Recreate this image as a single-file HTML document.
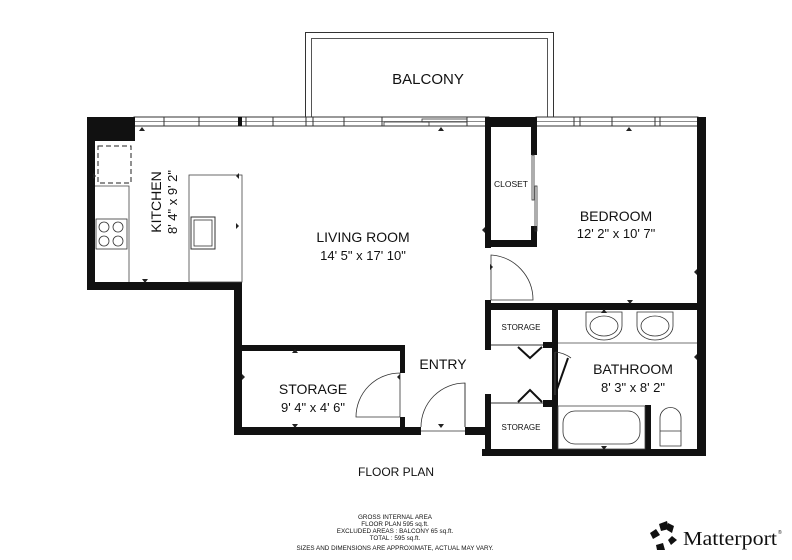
<!DOCTYPE html>
<html><head><meta charset="utf-8"><style>
html,body{margin:0;padding:0;background:#fff;}
svg{display:block;}
text{font-family:"Liberation Sans",sans-serif;fill:#111;}
</style></head><body>
<svg width="792" height="560" viewBox="0 0 792 560" xmlns="http://www.w3.org/2000/svg">
<rect width="792" height="560" fill="#fff"/>
<!-- Balcony -->
<rect x="305.5" y="32.5" width="248" height="92" fill="none" stroke="#333" stroke-width="1"/>
<rect x="311.5" y="38.5" width="236" height="86" fill="none" stroke="#555" stroke-width="1"/>
<text x="428" y="84" font-size="15" text-anchor="middle">BALCONY</text>
<!-- window band -->
<rect x="134" y="117" width="355" height="9" fill="#fff" stroke="#333" stroke-width="1"/>
<line x1="134" y1="121.5" x2="489" y2="121.5" stroke="#666" stroke-width="0.8"/>
<rect x="536" y="117" width="162" height="9" fill="#fff" stroke="#333" stroke-width="1"/>
<line x1="536" y1="121.5" x2="698" y2="121.5" stroke="#666" stroke-width="0.8"/>
<g stroke="#333" stroke-width="1">
<line x1="164" y1="117" x2="164" y2="126"/><line x1="199" y1="117" x2="199" y2="126"/>
<line x1="239" y1="117" x2="239" y2="126"/><line x1="246" y1="117" x2="246" y2="126"/>
<line x1="273" y1="117" x2="273" y2="126"/><line x1="306" y1="117" x2="306" y2="126"/>
<line x1="313" y1="117" x2="313" y2="126"/><line x1="344" y1="117" x2="344" y2="126"/>
<line x1="382" y1="117" x2="382" y2="126"/><line x1="467" y1="117" x2="467" y2="126"/>
<line x1="574" y1="117" x2="574" y2="126"/><line x1="580" y1="117" x2="580" y2="126"/>
<line x1="612" y1="117" x2="612" y2="126"/><line x1="655" y1="117" x2="655" y2="126"/>
<line x1="660" y1="117" x2="660" y2="126"/>
</g>
<rect x="238" y="117" width="4" height="9" fill="#111"/>
<rect x="384" y="122" width="45" height="4" fill="none" stroke="#333" stroke-width="0.8"/>
<rect x="422" y="119" width="45" height="3" fill="none" stroke="#333" stroke-width="0.8"/>
<!-- walls -->
<g fill="#111">
<rect x="87" y="117" width="48" height="24"/>
<rect x="87" y="117" width="8" height="173"/>
<rect x="87" y="282" width="155" height="8"/>
<rect x="234" y="282" width="8" height="153"/>
<rect x="242" y="345" width="163" height="6"/>
<rect x="400" y="345" width="5" height="28"/>
<rect x="400" y="417" width="5" height="12"/>
<rect x="234" y="427" width="187" height="8"/>
<rect x="465" y="427" width="26" height="8"/>
<rect x="485" y="117" width="52" height="10"/>
<rect x="485" y="117" width="6" height="131"/>
<rect x="485" y="240" width="52" height="7"/>
<rect x="531" y="117" width="6" height="38"/>
<rect x="531" y="226" width="6" height="20"/>
<rect x="485" y="300" width="6" height="50"/>
<rect x="485" y="303" width="221" height="7"/>
<rect x="697" y="117" width="9" height="339"/>
<rect x="485" y="394" width="6" height="62"/>
<rect x="482" y="449" width="224" height="7"/>
<rect x="552" y="303" width="6" height="153"/>
<rect x="485" y="342" width="6" height="6"/>
<rect x="543" y="342" width="15" height="6"/>
<rect x="485" y="400" width="6" height="7"/>
<rect x="543" y="400" width="15" height="7"/>
<rect x="645" y="405" width="6" height="46"/>
</g>
<!-- closet doors -->
<rect x="532" y="155" width="2" height="45" fill="none" stroke="#333" stroke-width="0.8"/>
<rect x="535" y="186" width="2" height="45" fill="none" stroke="#333" stroke-width="0.8"/>
<!-- storage lintels -->
<line x1="491" y1="345" x2="543" y2="345" stroke="#333" stroke-width="1"/>
<line x1="491" y1="403" x2="543" y2="403" stroke="#333" stroke-width="1"/>
<polyline points="518,347 530,358 542,347" fill="none" stroke="#111" stroke-width="2"/>
<polyline points="518,402 530,390 542,402" fill="none" stroke="#111" stroke-width="2"/>
<line x1="555" y1="395" x2="568" y2="358" stroke="#111" stroke-width="2"/>
<path d="M555 352 A30 30 0 0 1 571 358" fill="none" stroke="#333" stroke-width="0.8"/>
<line x1="555" y1="352" x2="555" y2="395" stroke="#555" stroke-width="0.8"/>
<!-- doors -->
<path d="M491 300 L491 255 A45 45 0 0 1 533 300 Z" fill="none" stroke="#333" stroke-width="0.8"/>
<path d="M400 373 L400 417 L356 417 A44 44 0 0 1 400 373" fill="none" stroke="#333" stroke-width="0.8"/>
<path d="M465 427 L465 383 A44 44 0 0 0 421 427" fill="none" stroke="#333" stroke-width="0.8"/>
<line x1="465" y1="383" x2="465" y2="427" stroke="#333" stroke-width="0.8"/>
<line x1="421" y1="431" x2="465" y2="431" stroke="#333" stroke-width="0.8"/>
<!-- kitchen -->
<rect x="98" y="146" width="33" height="37" fill="none" stroke="#222" stroke-width="1" stroke-dasharray="5,3"/>
<polyline points="95,186 129,186 129,282" fill="none" stroke="#444" stroke-width="0.8"/>
<rect x="96" y="219" width="31" height="30" fill="none" stroke="#333" stroke-width="0.8"/>
<g fill="none" stroke="#333" stroke-width="0.8">
<circle cx="104" cy="227" r="5"/><circle cx="118" cy="227" r="5"/>
<circle cx="104" cy="241" r="5"/><circle cx="118" cy="241" r="5"/>
</g>
<rect x="189" y="175" width="53" height="107" fill="none" stroke="#444" stroke-width="0.8"/>
<rect x="191" y="217" width="24" height="32" fill="none" stroke="#333" stroke-width="1"/>
<rect x="194" y="220" width="18" height="26" fill="none" stroke="#333" stroke-width="0.8"/>
<text transform="translate(161,202) rotate(-90)" font-size="14" text-anchor="middle">KITCHEN</text>
<text transform="translate(177,202) rotate(-90)" font-size="13" text-anchor="middle">8' 4" x 9' 2"</text>
<!-- bathroom fixtures -->
<line x1="558" y1="343" x2="697" y2="343" stroke="#444" stroke-width="0.8"/>
<path d="M586 312 L622 312 L622 326 A18 14 0 0 1 586 326 Z" fill="none" stroke="#333" stroke-width="0.8"/>
<ellipse cx="604" cy="326" rx="14" ry="10" fill="none" stroke="#333" stroke-width="0.8"/>
<path d="M637 312 L673 312 L673 326 A18 14 0 0 1 637 326 Z" fill="none" stroke="#333" stroke-width="0.8"/>
<ellipse cx="655" cy="326" rx="14" ry="10" fill="none" stroke="#333" stroke-width="0.8"/>
<rect x="558" y="406" width="87" height="43" fill="none" stroke="#444" stroke-width="0.8"/>
<rect x="563" y="411" width="77" height="33" rx="12" fill="none" stroke="#333" stroke-width="0.8"/>
<path d="M660 446 L660 418 A10.5 10.5 0 0 1 681 418 L681 446 Z" fill="none" stroke="#333" stroke-width="0.8"/>
<line x1="660" y1="431" x2="681" y2="431" stroke="#333" stroke-width="0.8"/>
<!-- small markers -->
<g fill="#222">
<path d="M139 131 l3 -4 l3 4z"/><path d="M438 131 l3 -4 l3 4z"/><path d="M626 131 l3 -4 l3 4z"/>
<path d="M142 279 l3 4 l3 -4z"/><path d="M96 176 l-3 -3 v6z"/>
<path d="M236 176 l3 -3 v6z"/><path d="M239 226 l-3 -3 v6z"/>
<path d="M482 230 l3 -3 v6z"/><path d="M493 267 l-3 -3 v6z"/>
<path d="M694 272 l3 -3 v6z"/><path d="M627 300 l3 4 l3 -4z"/>
<path d="M292 353 l3 -4 l3 4z"/><path d="M292 424 l3 4 l3 -4z"/>
<path d="M245 377 l-3 -3 v6z"/><path d="M397 377 l3 -3 v6z"/>
<path d="M438 424 l3 4 l3 -4z"/><path d="M601 313 l3 -4 l3 4z"/>
<path d="M694 357 l3 -3 v6z"/><path d="M601 446 l3 4 l3 -4z"/>
</g>
<!-- labels -->
<text x="363" y="242" font-size="14" text-anchor="middle">LIVING ROOM</text>
<text x="363" y="260" font-size="13" text-anchor="middle">14' 5" x 17' 10"</text>
<text x="616" y="221" font-size="14" text-anchor="middle">BEDROOM</text>
<text x="616" y="238" font-size="13" text-anchor="middle">12' 2" x 10' 7"</text>
<text x="511" y="187" font-size="8.5" text-anchor="middle">CLOSET</text>
<text x="521" y="330" font-size="8" text-anchor="middle">STORAGE</text>
<text x="521" y="430" font-size="8" text-anchor="middle">STORAGE</text>
<text x="633" y="374" font-size="14" text-anchor="middle">BATHROOM</text>
<text x="633" y="392" font-size="13" text-anchor="middle">8' 3" x 8' 2"</text>
<text x="313" y="394" font-size="14" text-anchor="middle">STORAGE</text>
<text x="313" y="412" font-size="13" text-anchor="middle">9' 4" x 4' 6"</text>
<text x="443" y="369" font-size="14" text-anchor="middle">ENTRY</text>
<text x="396" y="476" font-size="12" text-anchor="middle">FLOOR PLAN</text>
<g font-size="6.3" text-anchor="middle">
<text x="395" y="519">GROSS INTERNAL AREA</text>
<text x="395" y="526">FLOOR PLAN 595 sq.ft.</text>
<text x="395" y="533">EXCLUDED AREAS :  BALCONY 65 sq.ft.</text>
<text x="395" y="540">TOTAL :  595 sq.ft.</text>
<text x="395" y="550">SIZES AND DIMENSIONS ARE APPROXIMATE, ACTUAL MAY VARY.</text>
</g>
<!-- Matterport logo -->
<g fill="#111">
<path d="M659 524 l8 -3 l2 8 l-8 2z"/>
<path d="M668 523 l6 3 l-2 7 l-5 -3z"/>
<path d="M650 533 l6 -4 l4 6 l-7 4z"/>
<path d="M672 536 l5 4 l-6 5 l-3 -5z"/>
<path d="M656 545 l7 -2 l2 7 l-8 0z"/>
</g>
<text x="683" y="545" font-size="20" textLength="94" lengthAdjust="spacingAndGlyphs" style="font-family:'Liberation Serif',serif">Matterport</text>
<text x="778" y="534" font-size="5">®</text>
</svg>
</body></html>
